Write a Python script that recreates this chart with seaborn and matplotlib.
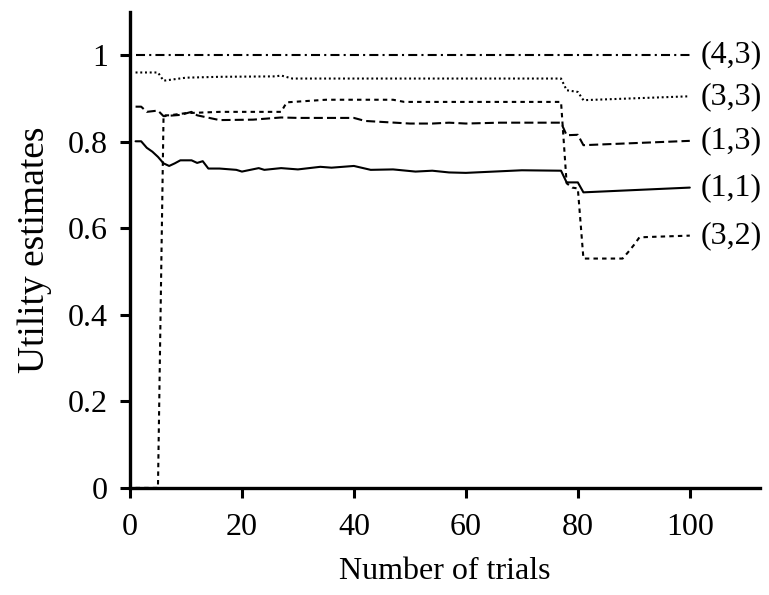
import numpy as np
import pandas as pd
import matplotlib
matplotlib.use("Agg")
import matplotlib.pyplot as plt
import seaborn as sns

# ── data ────────────────────────────────────────────────────
x_43 = [1, 100]
u_43 = [1.0, 1.0]

x_33 = [1, 5, 6, 10, 16, 26, 27, 29, 50, 62, 77, 78, 80, 81, 100]
u_33 = [0.960, 0.960, 0.941, 0.948, 0.950, 0.951, 0.953, 0.946, 0.946,
        0.946, 0.946, 0.919, 0.915, 0.896, 0.905]

x_13 = [1, 2, 3, 5, 6, 9, 11, 12, 16, 22, 27, 30, 40, 42, 46, 50, 54, 57,
        60, 66, 77, 78, 80, 81, 100]
u_13 = [0.881, 0.881, 0.869, 0.872, 0.859, 0.862, 0.869, 0.861, 0.850,
        0.851, 0.856, 0.855, 0.855, 0.848, 0.845, 0.842, 0.842, 0.844,
        0.842, 0.844, 0.844, 0.815, 0.816, 0.792, 0.802]

x_11 = [1, 2, 3, 4, 5, 6, 7, 8, 9, 11, 12, 13, 14, 16, 19, 20, 23, 24, 27,
        30, 34, 36, 40, 43, 47, 51, 54, 57, 60, 65, 70, 77, 78, 80, 81, 100]
u_11 = [0.801, 0.801, 0.786, 0.777, 0.765, 0.750, 0.744, 0.750, 0.757,
        0.757, 0.751, 0.755, 0.738, 0.738, 0.735, 0.731, 0.739, 0.735,
        0.739, 0.736, 0.742, 0.740, 0.744, 0.735, 0.736, 0.731, 0.733,
        0.729, 0.728, 0.731, 0.734, 0.733, 0.706, 0.706, 0.683, 0.694]

x_32 = [1, 5, 6, 7, 10, 16, 27, 28, 35, 47, 49, 77, 78, 79, 80, 81, 88,
        89, 90, 91, 93, 100]
u_32 = [0.0, 0.0, 0.861, 0.861, 0.866, 0.869, 0.869, 0.891, 0.897, 0.897,
        0.892, 0.892, 0.704, 0.694, 0.692, 0.530, 0.530, 0.545, 0.561,
        0.579, 0.580, 0.583]

states = ["(4,3)", "(3,3)", "(1,3)", "(1,1)", "(3,2)"]
xs = [x_43, x_33, x_13, x_11, x_32]
us = [u_43, u_33, u_13, u_11, u_32]

x_ticks = [0, 20, 40, 60, 80, 100]
y_ticks = [0, 0.2, 0.4, 0.6, 0.8, 1]
y_tick_labels = ["0", "0.2", "0.4", "0.6", "0.8", "1"]

df = pd.concat([pd.DataFrame({"trial": x, "utility": u, "state": s})
                for x, u, s in zip(xs, us, states)], ignore_index=True)

# ── style ───────────────────────────────────────────────────
sns.set_theme(style="ticks")
plt.rcParams["font.family"] = ["Liberation Serif", "DejaVu Serif"]
plt.rcParams["lines.scale_dashes"] = False
for key in ["text.color", "axes.labelcolor", "xtick.color", "ytick.color",
            "axes.edgecolor"]:
    plt.rcParams[key] = "black"

line_dashes = {
    "(4,3)": (6.5, 3.0, 1.5, 3.0),
    "(3,3)": (1.4, 2.0),
    "(1,3)": (6.5, 3.0),
    "(1,1)": "",
    "(3,2)": (3.2, 3.0),
}

fig = plt.figure(figsize=(7.69, 5.95), dpi=100)
ax = fig.add_axes([0.169, 0.180, 0.819, 0.800])

sns.lineplot(data=df, x="trial", y="utility", style="state",
             dashes=line_dashes, color="black", linewidth=1.5,
             estimator=None, sort=False, legend=False, ax=ax)

# labels at the end of each line
for s, x, u in zip(states, xs, us):
    ax.text(x[-1] + 2, u[-1], s, fontsize=23, va="center", ha="left")

ax.set_xlim(0, 112.5)
ax.set_ylim(0, 1.1)
ax.set_xticks(x_ticks)
ax.set_yticks(y_ticks)
ax.set_yticklabels(y_tick_labels)
ax.set_xlabel("Number of trials", fontsize=23, labelpad=11)
ax.set_ylabel("Utility estimates", fontsize=27, labelpad=11)
ax.tick_params(axis="both", labelsize=23, length=7, width=2.2,
               direction="out", color="black", labelcolor="black")
ax.tick_params(axis="x", pad=11)
ax.tick_params(axis="y", pad=9)

sns.despine(ax=ax)
for side in ["left", "bottom"]:
    ax.spines[side].set_linewidth(2.4)
    ax.spines[side].set_color("black")

fig.savefig("out.png", dpi=100)
